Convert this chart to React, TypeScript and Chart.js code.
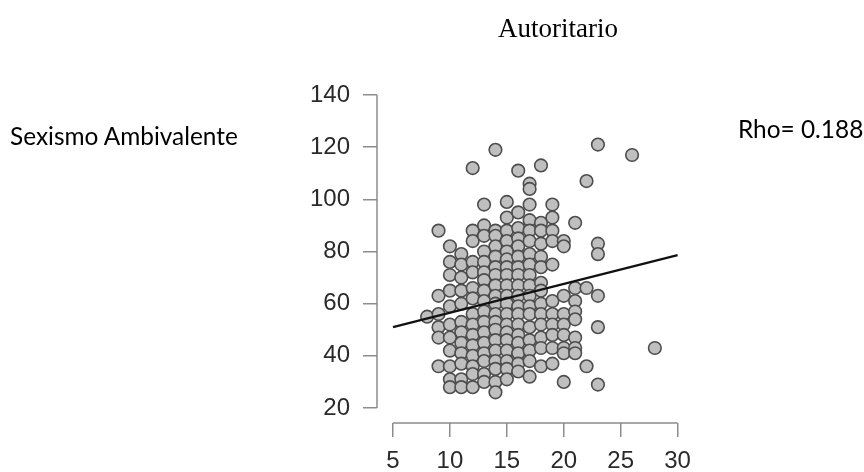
import React, { useEffect, useRef } from "react";
import { Chart, registerables } from "chart.js";

Chart.register(...registerables);

// Autoritario score columns and the Sexismo Ambivalente values found in each
const columnX = [8, 9, 10, 11, 12, 13, 14, 15, 16, 17, 18, 19, 20, 21, 22, 23, 26, 28];
const columnY = [
  [55],
  [88, 63, 56, 51, 47, 36],
  [82, 76, 71, 65, 59, 52, 47, 42, 36, 31, 28],
  [79, 75, 70, 65, 60, 53, 49, 45, 41, 37, 31, 28],
  [112, 88, 84, 76, 72, 66, 62, 56, 52, 48, 44, 40, 36, 33, 28],
  [98, 90, 86, 80, 76, 72, 69, 65, 61, 57, 53, 49, 45, 41, 38, 33, 30],
  [119, 88, 86, 82, 78, 74, 71, 67, 63, 60, 56, 53, 50, 46, 42, 38, 35, 30, 26],
  [99, 93, 88, 84, 80, 77, 74, 71, 67, 63, 60, 56, 52, 49, 46, 42, 38, 35, 31],
  [111, 95, 89, 85, 82, 78, 74, 71, 67, 63, 59, 56, 52, 48, 45, 41, 37, 34],
  [106, 104, 98, 92, 88, 84, 79, 75, 71, 67, 63, 59, 56, 51, 46, 42, 38, 32],
  [113, 91, 88, 83, 78, 74, 68, 65, 60, 56, 52, 47, 43, 36],
  [98, 93, 88, 84, 75, 61, 56, 52, 48, 43, 37],
  [84, 82, 63, 56, 52, 48, 43, 41, 30],
  [91, 66, 61, 57, 54, 47, 43, 41],
  [107, 66, 36],
  [121, 83, 79, 63, 51, 29],
  [117],
  [43],
];

const fitX = [5, 30];
const fitY = [51, 78.6];

const xTicks = [5, 10, 15, 20, 25, 30];
const yTicks = [20, 40, 60, 80, 100, 120, 140];

const titleText = "Autoritario";
const leftText = "Sexismo Ambivalente";
const rightText = "Rho= 0.188";

export default function App() {
  const ref = useRef<HTMLCanvasElement>(null);

  useEffect(() => {
    if (!ref.current) return;
    const points = columnX.flatMap((x, i) => columnY[i].map((y) => ({ x, y })));
    const fit = fitX.map((x, i) => ({ x, y: fitY[i] }));

    const axisLines = {
      id: "rAxes",
      beforeDatasetsDraw(chart: any) {
        const { ctx, chartArea, scales } = chart;
        const xs = scales.x;
        const ys = scales.y;
        ctx.save();
        ctx.strokeStyle = "#8c8c8c";
        ctx.lineWidth = 1.5;
        ctx.beginPath();
        ctx.moveTo(chartArea.left, ys.getPixelForValue(yTicks[0]));
        ctx.lineTo(chartArea.left, ys.getPixelForValue(yTicks[yTicks.length - 1]));
        ctx.moveTo(xs.getPixelForValue(xTicks[0]), chartArea.bottom);
        ctx.lineTo(xs.getPixelForValue(xTicks[xTicks.length - 1]), chartArea.bottom);
        ctx.stroke();
        ctx.restore();
      },
    };

    const tickFont = { family: '"Liberation Sans", Arial, sans-serif', size: 24 };

    const chart = new Chart(ref.current, {
      type: "scatter",
      data: {
        datasets: [
          {
            type: "line",
            data: fit,
            borderColor: "#111111",
            borderWidth: 2.2,
            pointRadius: 0,
            order: 0,
          } as any,
          {
            data: points,
            backgroundColor: "#bfbfbf",
            borderColor: "#4d4d4d",
            borderWidth: 1.6,
            pointRadius: 6.3,
            order: 1,
          },
        ],
      },
      options: {
        animation: false,
        responsive: false,
        devicePixelRatio: 1,
        layout: { padding: { top: 95, left: 0, right: 175, bottom: 0 } },
        plugins: {
          legend: { display: false },
          tooltip: { enabled: false },
          title: { display: false },
        },
        scales: {
          x: {
            type: "linear",
            min: 3.596,
            max: 31,
            afterBuildTicks: (s: any) => {
              s.ticks = xTicks.map((v) => ({ value: v }));
            },
            afterFit: (s: any) => {
              s.height = 49;
            },
            border: { display: false },
            grid: { drawOnChartArea: false, drawTicks: true, tickLength: 14, color: "#8c8c8c", lineWidth: 1.5 },
            ticks: { padding: 10, font: tickFont, color: "#2a2a2a", autoSkip: false, maxRotation: 0 },
          },
          y: {
            type: "linear",
            min: 14.25,
            max: 140,
            afterBuildTicks: (s: any) => {
              s.ticks = yTicks.map((v) => ({ value: v }));
            },
            afterFit: (s: any) => {
              s.width = 377;
            },
            border: { display: false },
            grid: { drawOnChartArea: false, drawTicks: true, tickLength: 14, color: "#8c8c8c", lineWidth: 1.5 },
            ticks: { padding: 13, font: tickFont, color: "#2a2a2a", autoSkip: false },
          },
        },
      },
      plugins: [axisLines],
    });
    return () => chart.destroy();
  }, []);

  return (
    <div style={{ position: "absolute", left: 0, top: 0, width: 864, height: 472, background: "#ffffff" }}>
      <canvas ref={ref} width={864} height={472} style={{ position: "absolute", left: 0, top: 0 }} />
      <div
        style={{
          position: "absolute",
          left: 408,
          width: 300,
          top: 13,
          textAlign: "center",
          fontFamily: '"Liberation Serif", "Times New Roman", serif',
          fontSize: 27,
          color: "#000",
          whiteSpace: "nowrap",
        }}
      >
        {titleText}
      </div>
      <div
        style={{
          position: "absolute",
          left: 10,
          top: 121,
          fontFamily: 'Lato, "Open Sans", sans-serif',
          fontSize: 24.4,
          color: "#000",
          whiteSpace: "nowrap",
        }}
      >
        {leftText}
      </div>
      <div
        style={{
          position: "absolute",
          left: 738,
          top: 114,
          fontFamily: 'Lato, "Open Sans", sans-serif',
          fontSize: 24.4,
          color: "#000",
          whiteSpace: "nowrap",
        }}
      >
        {rightText}
      </div>
    </div>
  );
}
